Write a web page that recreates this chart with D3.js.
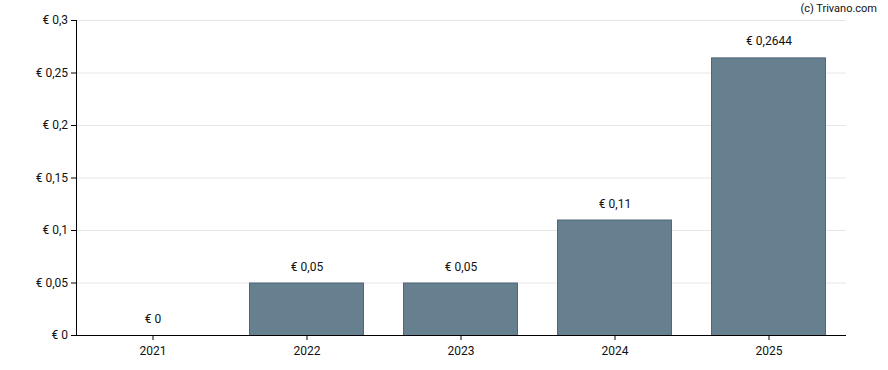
<!DOCTYPE html>
<html>
<head>
<meta charset="utf-8">
<script src="https://cdn.jsdelivr.net/npm/d3@7"></script>
<style>
  body { margin: 0; background: #fff; }
  svg { font-family: Roboto, Arial, sans-serif; }
</style>
</head>
<body>
<div id="chart"></div>
<script>
const years = ['2021', '2022', '2023', '2024', '2025'];
const dividends = [0, 0.05, 0.05, 0.11, 0.2644];
const valueLabels = ['€ 0', '€ 0,05', '€ 0,05', '€ 0,11', '€ 0,2644'];
const yTicks = [0, 0.05, 0.1, 0.15, 0.2, 0.25, 0.3];

const w = 888;
const h = 370;
const plotLeft = 76, plotRight = 846, plotTop = 20, plotBottom = 335;

const svg = d3.select('#chart')
  .append('svg')
  .attr('width', w)
  .attr('height', h);

const xScale = d3.scaleBand()
  .domain(years)
  .range([plotLeft, plotRight])
  .paddingInner(0.26)
  .paddingOuter(0.13);

const yScale = d3.scaleLinear()
  .domain([0, 0.3])
  .range([plotBottom, plotTop]);

const fmt = d => '€ ' + String(+d.toFixed(2)).replace('.', ',');

// grid lines
svg.append('g')
  .selectAll('line')
  .data(yTicks.slice(1))
  .enter()
  .append('line')
  .attr('x1', plotLeft)
  .attr('x2', plotRight)
  .attr('y1', d => yScale(d) + 0.5)
  .attr('y2', d => yScale(d) + 0.5)
  .attr('stroke', '#e6e6e6')
  .attr('stroke-width', 1);

// bars
svg.append('g')
  .selectAll('rect')
  .data(dividends)
  .enter()
  .append('rect')
  .attr('x', (d, i) => Math.floor(xScale(years[i])) - 0.5)
  .attr('y', d => yScale(d) + 0.5)
  .attr('width', xScale.bandwidth())
  .attr('height', d => yScale(0) - yScale(d))
  .attr('fill', '#67808f')
  .attr('stroke', '#4e6676')
  .attr('stroke-width', 1)
  .style('display', d => d === 0 ? 'none' : null);

// value labels
svg.append('g')
  .selectAll('text')
  .data(dividends)
  .enter()
  .append('text')
  .attr('x', (d, i) => xScale(years[i]) + xScale.bandwidth() / 2)
  .attr('y', d => yScale(d) - 12)
  .attr('text-anchor', 'middle')
  .attr('font-size', 12)
  .attr('fill', '#111')
  .text((d, i) => valueLabels[i]);

const xAxis = d3.axisBottom(xScale)
  .tickSizeOuter(0)
  .tickSize(5)
  .tickPadding(6);
const yAxis = d3.axisLeft(yScale)
  .tickValues(yTicks)
  .tickFormat(fmt)
  .tickSizeOuter(0)
  .tickSize(5)
  .tickPadding(3);

const gx = svg.append('g')
  .attr('transform', 'translate(0,' + plotBottom + ')')
  .call(xAxis);
gx.select('.domain').attr('stroke', '#000').attr('d', 'M' + plotLeft + ',0.5H' + plotRight);
gx.selectAll('text').attr('font-size', 12).attr('fill', '#111').attr('font-family', 'Roboto, Arial, sans-serif');

const gy = svg.append('g')
  .attr('transform', 'translate(' + plotLeft + ',0)')
  .call(yAxis);
gy.select('.domain').attr('stroke', '#000').attr('d', 'M0.5,' + plotTop + 'V' + (plotBottom + 1));
gy.selectAll('text').attr('font-size', 12).attr('fill', '#111').attr('font-family', 'Roboto, Arial, sans-serif');

svg.append('text')
  .attr('x', 877)
  .attr('y', 12)
  .attr('text-anchor', 'end')
  .attr('font-size', 11)
  .attr('fill', '#111')
  .text('(c) Trivano.com');
</script>
</body>
</html>
